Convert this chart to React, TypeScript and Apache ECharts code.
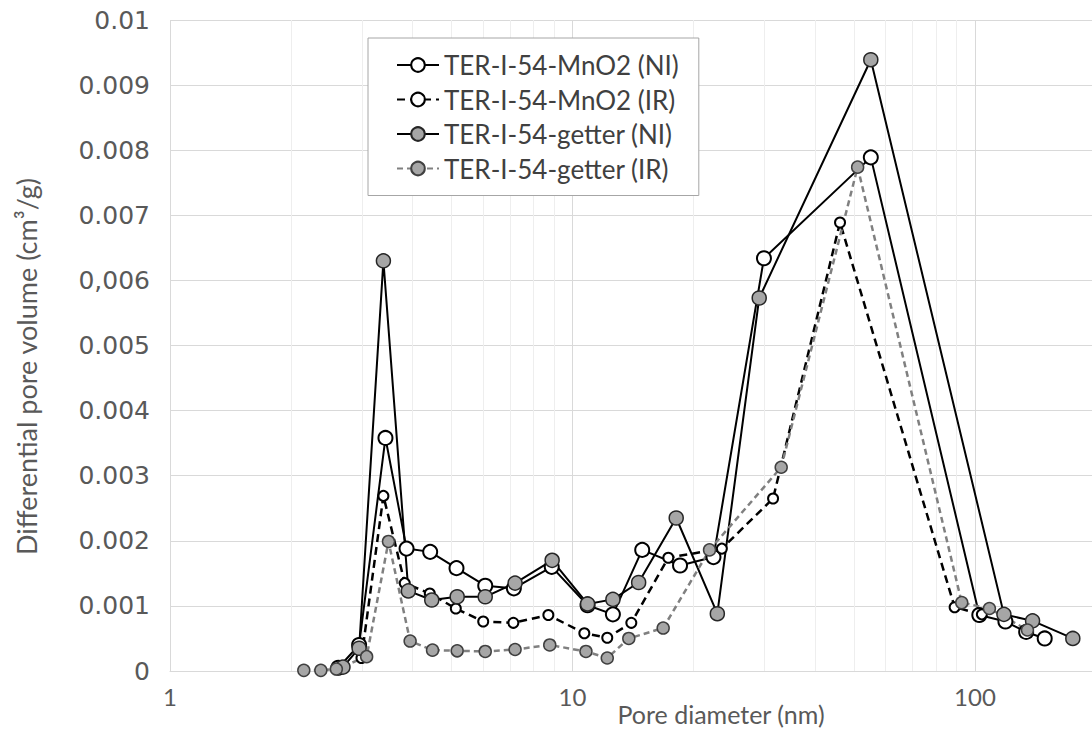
import React, { useEffect, useRef } from 'react';
import * as echarts from 'echarts';

// [pore diameter (nm), differential pore volume (cm3/g)]
const mno2NI: [number, number][] = [
  [2.62, 0.00005], [2.95, 0.0004], [3.43, 0.00358], [3.87, 0.00188], [4.43, 0.00183],
  [5.15, 0.00158], [6.07, 0.00131], [7.15, 0.00127], [8.88, 0.0016], [10.9, 0.00101],
  [12.6, 0.00087], [14.9, 0.00186], [18.5, 0.00162], [22.4, 0.00175], [29.9, 0.00634],
  [55.1, 0.00789], [102.5, 0.00086], [119, 0.00076], [134, 0.0006], [149, 0.0005],
];
const mno2IR: [number, number][] = [
  [2.99, 0.0002], [3.39, 0.00269], [3.83, 0.00135], [4.42, 0.00119], [5.13, 0.00096],
  [6.0, 0.00076], [7.13, 0.00074], [8.71, 0.00086], [10.7, 0.00058], [12.2, 0.00051],
  [14.0, 0.00074], [17.3, 0.00174], [23.5, 0.00188], [31.5, 0.00265], [46.2, 0.00689],
  [89, 0.00098], [104, 0.00087],
];
const getterNI: [number, number][] = [
  [2.69, 0.00006], [2.95, 0.00035], [3.39, 0.0063], [3.91, 0.00123], [4.47, 0.00109],
  [5.17, 0.00114], [6.07, 0.00114], [7.2, 0.00135], [8.9, 0.0017], [10.9, 0.00103],
  [12.6, 0.0011], [14.6, 0.00136], [18.1, 0.00235], [22.9, 0.00088], [29.1, 0.00573],
  [55.1, 0.00939], [118, 0.00087], [139, 0.00077], [175, 0.0005],
];
const getterIR: [number, number][] = [
  [2.15, 0.00001], [2.37, 0.00001], [2.59, 0.00003], [3.08, 0.00022], [3.49, 0.00199],
  [3.95, 0.00046], [4.49, 0.00032], [5.17, 0.00031], [6.07, 0.0003], [7.2, 0.00033],
  [8.78, 0.0004], [10.8, 0.0003], [12.2, 0.0002], [13.8, 0.0005], [16.8, 0.00066],
  [21.9, 0.00186], [33, 0.00313], [51.1, 0.00774], [92.7, 0.00105], [108.6, 0.00096],
  [135, 0.00063],
];

const seriesNames = [
  'TER-I-54-MnO2 (NI)',
  'TER-I-54-MnO2 (IR)',
  'TER-I-54-getter (NI)',
  'TER-I-54-getter (IR)',
];
const yTickLabels = ['0', '0.001', '0.002', '0.003', '0.004', '0.005', '0,006', '0.007', '0.008', '0.009', '0.01'];
const xTickLabels: Record<number, string> = { 1: '1', 10: '10', 100: '100' };
const minorGridX = [2, 3, 4, 5, 6, 7, 8, 9, 20, 30, 40, 50, 60, 70, 80, 90];

export default function App() {
  const ref = useRef<HTMLDivElement>(null);
  useEffect(() => {
    const chart = echarts.init(ref.current!, null, { renderer: 'svg' });
    const gray = '#a6a6a6';
    chart.setOption({
      animation: false,
      backgroundColor: '#ffffff',
      grid: { left: 170, right: 0, top: 20, bottom: 67, containLabel: false, outerBoundsMode: 'none' },
      legend: {
        orient: 'vertical',
        left: 368,
        top: 38,
        padding: [14, 20, 14, 28],
        itemGap: 8.5,
        itemWidth: 42,
        itemHeight: 17,
        borderColor: '#a6a6a6',
        borderWidth: 1,
        backgroundColor: '#ffffff',
        textStyle: { fontFamily: 'Lato', fontSize: 26, lineHeight: 24, color: '#404040' },
        data: seriesNames,
      },
      xAxis: {
        type: 'log',
        logBase: 10,
        min: 1,
        max: 195.3,
        name: 'Pore diameter (nm)',
        nameLocation: 'middle',
        nameGap: 30,
        nameMoveOverlap: false,
        nameTextStyle: {
          fontFamily: 'Lato', fontSize: 25, lineHeight: 26, color: '#595959', padding: [0, 0, 0, 180],
        },
        axisLine: { show: true, lineStyle: { color: '#d9d9d9', width: 1 } },
        axisTick: { show: false },
        axisLabel: {
          fontFamily: 'Lato', fontSize: 24, color: '#595959', margin: 13,
          showMaxLabel: false,
          formatter: (v: number) => xTickLabels[Math.round(v)] ?? '',
        },
        splitLine: { show: true, lineStyle: { color: '#d9d9d9', width: 1 } },
      },
      yAxis: {
        type: 'value',
        min: 0,
        max: 0.01,
        interval: 0.001,
        name: 'Differential pore volume (cm³/g)',
        nameLocation: 'middle',
        nameGap: 130,
        nameMoveOverlap: false,
        nameTextStyle: { fontFamily: 'Lato', fontSize: 27, color: '#595959', padding: [0, 42, 0, 0] },
        axisLine: { show: false },
        axisTick: { show: false },
        axisLabel: {
          fontFamily: 'DejaVu Sans', fontSize: 25, color: '#595959', margin: 20,
          formatter: (v: number) => yTickLabels[Math.round(v / 0.001)] ?? '',
        },
        splitLine: { show: true, lineStyle: { color: '#d9d9d9', width: 1 } },
      },
      series: [
        {
          name: seriesNames[0],
          type: 'line',
          data: mno2NI,
          symbol: 'circle',
          symbolSize: 14,
          lineStyle: { color: '#000000', width: 2 },
          itemStyle: { color: '#ffffff', borderColor: '#000000', borderWidth: 2 },
          markLine: {
            silent: true,
            z: 1,
            symbol: ['none', 'none'],
            label: { show: false },
            lineStyle: { color: '#eeeeee', width: 1, type: 'solid' },
            data: minorGridX.map((v) => ({ xAxis: v })),
          },
        },
        {
          name: seriesNames[1],
          type: 'line',
          data: mno2IR,
          symbol: 'circle',
          symbolSize: 10,
          lineStyle: { color: '#000000', width: 2.5, type: [8, 5] },
          itemStyle: { color: '#ffffff', borderColor: '#000000', borderWidth: 2 },
        },
        {
          name: seriesNames[2],
          type: 'line',
          data: getterNI,
          symbol: 'circle',
          symbolSize: 14,
          lineStyle: { color: '#000000', width: 2 },
          itemStyle: { color: gray, borderColor: '#262626', borderWidth: 1.5 },
        },
        {
          name: seriesNames[3],
          type: 'line',
          data: getterIR,
          symbol: 'circle',
          symbolSize: 12,
          lineStyle: { color: '#808080', width: 2.5, type: [6, 4] },
          itemStyle: { color: gray, borderColor: '#404040', borderWidth: 1.5 },
        },
      ],
    });
    return () => chart.dispose();
  }, []);
  return (
    <div
      ref={ref}
      style={{ position: 'fixed', left: 0, top: 0, width: 1092, height: 738, background: '#ffffff' }}
    />
  );
}
